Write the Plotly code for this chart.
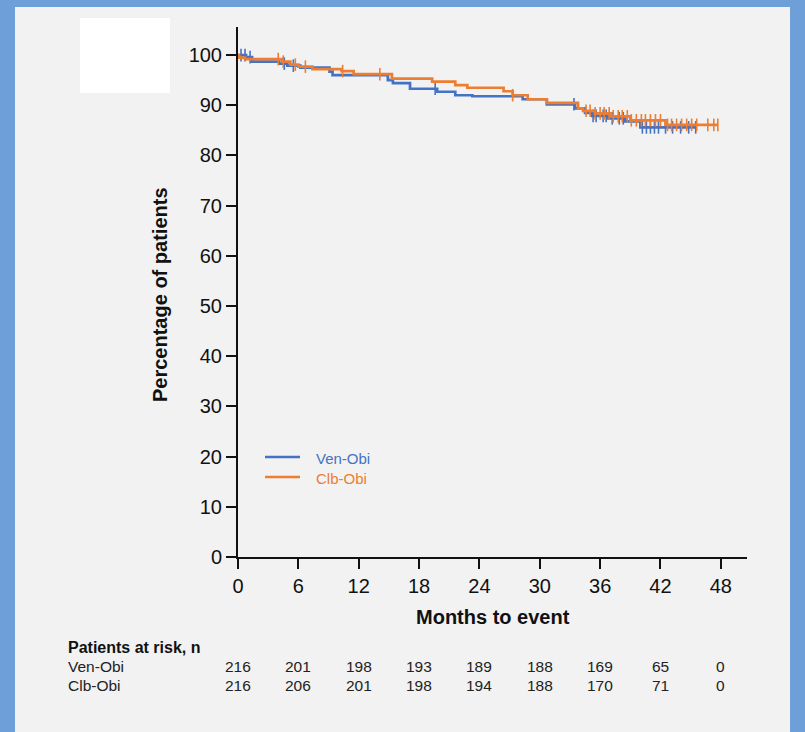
import bisect
import plotly.graph_objects as go

# ---------------- data ----------------
ven_times = [0, 0.8, 1.4, 4.1, 4.9, 6.2, 9.1, 9.4, 14.9, 15.4, 17.1, 19.8, 21.6, 23.3,
             28.3, 30.7, 33.5, 34.5, 35.2, 36.8, 38.5, 40.0]
ven_surv = [100, 99.6, 98.7, 98.3, 97.9, 97.5, 96.7, 96.0, 95.0, 94.4, 93.3, 92.7, 92.0, 91.8,
            91.2, 90.2, 89.4, 88.5, 87.9, 87.4, 86.8, 85.6]
ven_censor = [0.3, 0.7, 1.2, 4.6, 5.5, 19.6, 33.4, 35.3, 35.6, 36.3, 36.6, 37.2, 37.9, 38.3,
              40.2, 40.6, 41.0, 41.4, 41.8, 42.5, 43.2, 44.0, 44.8, 45.5]

clb_times = [0, 0.1, 0.7, 4.4, 5.2, 6.0, 7.4, 10.3, 11.5, 15.3, 19.3, 21.6, 22.8, 26.4, 27.3,
             28.8, 30.7, 33.8, 34.3, 35.5, 37.0, 39.0, 42.5]
clb_surv = [100, 99.5, 99.2, 98.7, 98.1, 97.7, 97.2, 96.8, 96.2, 95.3, 94.7, 94.0, 93.5, 92.8,
            92.0, 91.2, 90.5, 89.4, 88.9, 88.4, 87.8, 87.0, 86.1]
clb_censor = [4.0, 4.5, 5.7, 6.7, 10.4, 14.1, 27.3, 34.6, 35.0, 35.5, 36.0, 36.4, 36.9, 37.3,
              37.8, 38.2, 38.7, 39.1, 39.6, 40.1, 40.5, 41.0, 41.5, 42.0, 42.7, 43.1, 43.6,
              44.1, 44.6, 45.1, 45.6, 46.7, 47.3, 47.7]

x_ticks = [0, 6, 12, 18, 24, 30, 36, 42, 48]
y_ticks = [0, 10, 20, 30, 40, 50, 60, 70, 80, 90, 100]
risk_ven = [216, 201, 198, 193, 189, 188, 169, 65, 0]
risk_clb = [216, 206, 201, 198, 194, 188, 170, 71, 0]
series_names = ["Ven-Obi", "Clb-Obi"]

BLUE = "#4472c4"
ORANGE = "#ed7d31"
FONT = "Liberation Sans, Arial, Helvetica, sans-serif"

# ---------------- geometry helpers ----------------
W, H = 805, 732
L, R, T, B = 238, 58, 27, 175
PW = W - L - R
PH = H - T - B


def px(xp):
    return (xp - L) / PW


def py(yp):
    return (H - B - yp) / PH


def surv_at(times, surv, t):
    i = bisect.bisect_right(times, t) - 1
    return surv[max(i, 0)]


fig = go.Figure()


def add_curve(times, surv, censor, color, name):
    end = max(max(censor), times[-1])
    xs = list(times) + [end]
    ys = list(surv) + [surv[-1]]
    fig.add_trace(go.Scatter(x=xs, y=ys, mode="lines", line=dict(color=color, width=2.7, shape="hv"),
                             name=name, showlegend=False, cliponaxis=False))
    fig.add_trace(go.Scatter(x=censor, y=[surv_at(times, surv, c) for c in censor], mode="markers",
                             marker=dict(symbol="line-ns", size=9, line=dict(color=color, width=1.6)),
                             name=name + " censored", showlegend=False, cliponaxis=False,
                             hoverinfo="skip"))


add_curve(ven_times, ven_surv, ven_censor, BLUE, series_names[0])
add_curve(clb_times, clb_surv, clb_censor, ORANGE, series_names[1])

shapes = [
    dict(type="rect", xref="paper", yref="paper", x0=px(15), x1=px(790), y0=py(732), y1=py(7),
         fillcolor="#f2f2f2", line=dict(width=0), layer="below"),
    dict(type="rect", xref="paper", yref="paper", x0=px(80), x1=px(170), y0=py(93), y1=py(18),
         fillcolor="#ffffff", line=dict(width=0), layer="below"),
]

annotations = [
    dict(text="<b>Percentage of patients</b>", xref="paper", yref="paper", x=px(160), y=py(295),
         textangle=-90, showarrow=False, font=dict(size=20, color="#111", family=FONT),
         xanchor="center", yanchor="middle"),
    dict(text="<b>Months to event</b>", xref="paper", yref="paper", x=px(493), y=py(617),
         showarrow=False, font=dict(size=20, color="#111", family=FONT),
         xanchor="center", yanchor="middle"),
    dict(text="<b>Patients at risk, n</b>", xref="paper", yref="paper", x=px(66), y=py(647),
         showarrow=False, font=dict(size=16, color="#111", family=FONT),
         xanchor="left", yanchor="middle"),
]

# manual legend
for i, (nm, col) in enumerate(zip(series_names, [BLUE, ORANGE])):
    yy = 457 + 20 * i
    shapes.append(dict(type="line", xref="paper", yref="paper", x0=px(265), x1=px(300),
                       y0=py(yy), y1=py(yy), line=dict(color=col, width=2.5)))
    annotations.append(dict(text=nm, xref="paper", yref="paper", x=px(314), y=py(yy + 1),
                            showarrow=False, font=dict(size=15, color=col, family=FONT),
                            xanchor="left", yanchor="middle"))

# risk table
for j, (nm, row) in enumerate(zip(series_names, [risk_ven, risk_clb])):
    yy = 666 + 19 * j
    annotations.append(dict(text=nm, xref="paper", yref="paper", x=px(66), y=py(yy),
                            showarrow=False, font=dict(size=15.5, color="#222", family=FONT),
                            xanchor="left", yanchor="middle"))
    for t, v in zip(x_ticks, row):
        annotations.append(dict(text=str(v), xref="x", yref="paper", x=t, y=py(yy), showarrow=False,
                                font=dict(size=15.5, color="#222", family=FONT),
                                xanchor="center", yanchor="middle"))

fig.update_layout(
    width=W, height=H,
    margin=dict(l=L, r=R, t=T, b=B, pad=0),
    paper_bgcolor="#6f9fd9",
    plot_bgcolor="#f2f2f2",
    font=dict(family=FONT, color="#111"),
    shapes=shapes,
    annotations=annotations,
    showlegend=False,
    xaxis=dict(range=[0, 50.6], tickvals=x_ticks, ticktext=[str(v) for v in x_ticks],
               showline=True, linecolor="#111", linewidth=2, ticks="outside", ticklen=10,
               tickwidth=2, tickcolor="#111", showgrid=False, zeroline=False,
               tickfont=dict(size=20, family=FONT, color="#111")),
    yaxis=dict(range=[0, 105.6], tickvals=y_ticks, ticktext=[str(v) for v in y_ticks],
               showline=True, linecolor="#111", linewidth=2, ticks="outside", ticklen=10,
               tickwidth=2, tickcolor="#111", showgrid=False, zeroline=False,
               tickfont=dict(size=20, family=FONT, color="#111")),
)

fig.write_html("out.html", config={"displayModeBar": False},
               post_script="document.body.style.margin='0';document.body.style.background='#6f9fd9';")
